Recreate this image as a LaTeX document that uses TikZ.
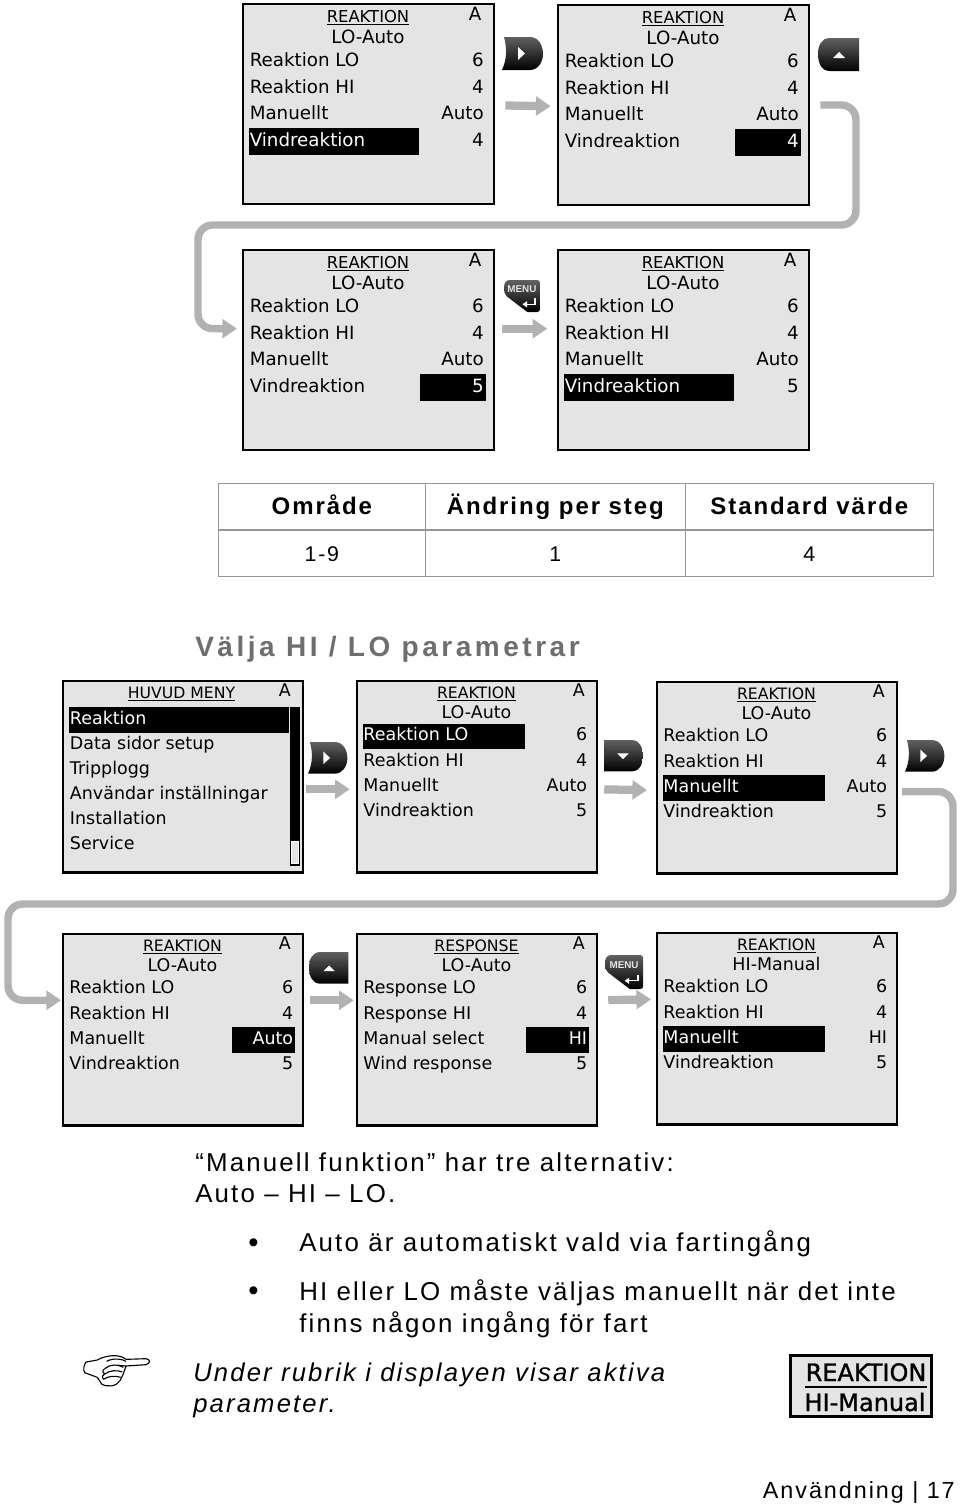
\documentclass[tikz,border=0pt]{standalone}
\usepackage{fontspec}
\setmainfont[LetterSpace=8.4]{Liberation Sans}
\newfontfamily\lcdfont{DejaVu Sans}
\newfontfamily\lcdheavy[FakeBold=1.2]{DejaVu Sans}
\newfontfamily\keyfont{Liberation Sans}
\newfontfamily\tablefont[LetterSpace=8]{Liberation Sans}
\newfontfamily\sectionfont[LetterSpace=12.6]{Liberation Sans}
\usetikzlibrary{arrows.meta, positioning, calc}
\definecolor{LcdGray}{RGB}{228, 228, 228}
\definecolor{FlowGray}{RGB}{178, 178, 178}
\definecolor{SectionGray}{RGB}{110, 110, 110}
\definecolor{RuleGray}{RGB}{150, 150, 150}
\tikzset{
    lcdframe/.style={draw=black, fill=LcdGray, line width=2pt, inner sep=0pt, transform shape,
                     minimum width=188.25pt, minimum height=150pt},
    lcdtext/.style={font=\lcdfont\fontsize{13.7}{14}\selectfont, inner sep=0pt, transform shape},
    lcdtitle/.style={font=\lcdfont\fontsize{12.3}{14}\selectfont, inner sep=0pt, transform shape},
    flowarrow/.style={draw=FlowGray, line width=6.2pt, -{Triangle[length=11pt, width=14pt]}},
    flowbend/.style={flowarrow, line width=5.6pt, rounded corners=11pt},
    keyfill/.style={shade, top color=black!62, middle color=black, bottom color=black},
    bodytext/.style={anchor=base west, inner sep=0pt, font=\fontsize{19.4}{24}\selectfont},
    tablecell/.style={draw=RuleGray, line width=0.5pt, inner sep=0pt, minimum height=34.75pt,
                      text height=14pt, text depth=0.7pt, font=\tablefont\fontsize{18}{20}\selectfont},
}
% Frame, title and channel letter of a display
\newcommand{\lcdhead}[3]{
    \node[lcdframe] (#1) at (125.5,100) {};
    \node[lcdtitle, anchor=base] (#1title) at (#2,18) {\underline{\smash{#3}}};
    \node[lcdtext, anchor=base] (#1chan) at (232,16) {A};
}
% name, x, y, scale, title, second line, rows, marked row, marked side
\newcommand{\lcdscreen}[9]{
    \begin{scope}[shift={(#2,#3)}, scale=#4]
        \lcdhead{#1}{125}{#5}
        \node[lcdtext, anchor=base] (#1sub) at (125,39) {#6};
        \foreach \lab/\val [count=\i] in {#7} {
            \pgfmathsetmacro{\ry}{56.5+26.5*(\i-1)}
            \def\lc{black}\def\vc{black}
            \ifnum\i=#8
                \if#9L
                    \fill[black] (6,\ry-12) rectangle (176,\ry+15);
                    \def\lc{white}
                \else
                    \fill[black] (177,\ry-12) rectangle (243,\ry+15);
                    \def\vc{white}
                \fi
            \fi
            \node[lcdtext, anchor=base west, text=\lc] (#1lab\i) at (6.5,\ry+6) {\lab};
            \node[lcdtext, anchor=base east, text=\vc] (#1val\i) at (241,\ry+6) {\val};
        }
    \end{scope}
}
% Keys of the instrument, all drawn in a 41 x 33 box
\newcommand{\keyright}[3]{
    \begin{scope}[shift={(#1,#2)}, scale=#3]
        \path[keyfill] (0,33) .. controls (5,22) and (5,11) .. (2,0) -- (28,0)
            .. controls (37,0) and (41,9) .. (41,17) .. controls (41,25) and (36,33) .. (28,33) -- cycle;
        \fill[white] (16,10) -- (23,16.5) -- (16,23) -- cycle;
    \end{scope}
}
\newcommand{\keyup}[3]{
    \begin{scope}[shift={(#1,#2)}, scale=#3]
        \path[keyfill] (41,0) -- (12,0) .. controls (3,0) and (0,8) .. (0,16)
            .. controls (0,26) and (4,33) .. (12,33) -- (41,33) -- cycle;
        \fill[white] (15,20) -- (21,14) -- (27,20) -- cycle;
    \end{scope}
}
\newcommand{\keydown}[3]{
    \begin{scope}[shift={(#1,#2)}, scale=#3]
        \path[keyfill] (0,0) -- (30,0) .. controls (37,0) and (41,8) .. (41,16)
            .. controls (41,26) and (37,33) .. (30,33) -- (0,33) -- cycle;
        \fill[white] (14,14) -- (26,14) -- (20,20) -- cycle;
    \end{scope}
}
\newcommand{\keymenu}[4]{
    \begin{scope}[shift={(#2,#3)}, scale=#4]
        \path[keyfill] (6,0) -- (34,0) .. controls (36,0) and (37,1) .. (37,3) -- (37,30)
            .. controls (37,32) and (36,33) .. (34,33) -- (24,33) -- (3,17)
            .. controls (1,15) and (0,13) .. (0,8) .. controls (0,3) and (2,0) .. (6,0) -- cycle;
        \node[inner sep=0pt, text=white!90!black, font=\keyfont\fontsize{7.4}{8}\selectfont\bfseries] (#1) at (18.5,9.5) {MENU};
        \draw[white, line width=1pt, -{Triangle[length=3.5pt, width=4.5pt]}] (32,19) -- (32,25) -- (19,25);
    \end{scope}
}
\begin{document}
\begin{tikzpicture}[x=0.75pt, y=-0.75pt]
    \useasboundingbox (0,0) rectangle (960,1504);

    % Wind response: value from 4 to 5
    \lcdscreen{scrA}{243}{4}{1}{REAKTION}{LO-Auto}{Reaktion LO/6, Reaktion HI/4, Manuellt/Auto, Vindreaktion/4}{4}{L}
    \lcdscreen{scrB}{558}{5}{1}{REAKTION}{LO-Auto}{Reaktion LO/6, Reaktion HI/4, Manuellt/Auto, Vindreaktion/4}{4}{R}
    \lcdscreen{scrC}{243}{250}{1}{REAKTION}{LO-Auto}{Reaktion LO/6, Reaktion HI/4, Manuellt/Auto, Vindreaktion/5}{4}{R}
    \lcdscreen{scrD}{558}{250}{1}{REAKTION}{LO-Auto}{Reaktion LO/6, Reaktion HI/4, Manuellt/Auto, Vindreaktion/5}{4}{L}

    \keyright{502}{37}{1}
    \keyup{818}{38}{1}
    \keymenu{menuA}{504}{280}{0.97}

    \coordinate (bendA) at (856,225);
    \coordinate (bendB) at (198,225);
    \draw[flowarrow, shorten <=7.5pt, shorten >=4.5pt] ([yshift=-1pt]scrA.east) -- ([yshift=-1pt]scrB.west |- 0,105);
    \draw[flowbend, shorten >=3.5pt] ([xshift=7.5pt]scrB.east) -| (bendA) -- (bendB) |- ([yshift=16pt]scrC.west);
    \draw[flowarrow, shorten <=5pt, shorten >=7pt] ([yshift=16pt]scrC.east) -- ([yshift=16pt]scrD.west);

    % Table of range and step
    \foreach \cx/\cw/\name/\head/\val in {218/207/a/Område/1-9, 425/260/b/Ändring per steg/1, 685/248/c/Standard värde/4} {
        \node[tablecell, anchor=north west, minimum width=\cw*0.75pt] (head\name) at (\cx,482.5)
            {\tablefont\bfseries\head};
        \node[tablecell, below=0pt of head\name.south west, anchor=north west, minimum width=\cw*0.75pt,
              font=\fontsize{16}{20}\selectfont] (cell\name) {\val};
    }

    \node[anchor=base west, inner sep=0pt, text=SectionGray, font=\sectionfont\fontsize{21}{24}\selectfont\bfseries]
        (secHead) at (195,656) {Välja HI / LO parametrar};

    % Main menu and its rows
    \begin{scope}[shift={(63,681)}, scale=0.956]
        \lcdhead{scrE}{124}{HUVUD MENY}
        \fill[black] (6,27) rectangle (236,54);
        \fill[black] (237,27) rectangle (248,193);
        \draw[white, fill=LcdGray, line width=0.8pt] (239.5,168) rectangle (246,191);
        \foreach \lab/\lc [count=\i] in {Reaktion/white, Data sidor setup/black, Tripplogg/black,
                                         Användar inställningar/black, Installation/black, Service/black} {
            \pgfmathsetmacro{\ry}{39.5+26.15*(\i-1)}
            \node[lcdtext, anchor=base west, text=\lc] (scrElab\i) at (7,\ry+6) {\lab};
        }
    \end{scope}
    \lcdscreen{scrF}{357}{681}{0.956}{REAKTION}{LO-Auto}{Reaktion LO/6, Reaktion HI/4, Manuellt/Auto, Vindreaktion/5}{1}{L}
    \lcdscreen{scrG}{657}{682}{0.956}{REAKTION}{LO-Auto}{Reaktion LO/6, Reaktion HI/4, Manuellt/Auto, Vindreaktion/5}{3}{L}
    \lcdscreen{scrH}{63}{934}{0.956}{REAKTION}{LO-Auto}{Reaktion LO/6, Reaktion HI/4, Manuellt/Auto, Vindreaktion/5}{3}{R}
    \lcdscreen{scrI}{357}{934}{0.956}{RESPONSE}{LO-Auto}{Response LO/6, Response HI/4, Manual select/HI, Wind response/5}{3}{R}
    \lcdscreen{scrJ}{657}{933}{0.956}{REAKTION}{HI-Manual}{Reaktion LO/6, Reaktion HI/4, Manuellt/HI, Vindreaktion/5}{3}{L}

    \keyright{308}{742}{0.96}
    \keydown{604}{740}{0.95}
    \keyright{905}{740}{0.96}
    \keyup{309}{952}{0.96}
    \keymenu{menuB}{605}{955}{1.03}

    \coordinate (bendC) at (953,904);
    \coordinate (bendD) at (8,904);
    \draw[flowarrow, shorten <=1.5pt, shorten >=4.5pt] ([yshift=-9.5pt]scrE.east) -- ([yshift=-9.5pt]scrF.west);
    \draw[flowarrow, shorten <=4.5pt, shorten >=6.5pt] ([yshift=-9.5pt]scrF.east) -- ([yshift=-9.5pt]scrG.west);
    \draw[flowbend, shorten >=0.5pt] ([xshift=3pt, yshift=-10.5pt]scrG.east) -| (bendC) -- (bendD) |- ([yshift=22pt]scrH.west);
    \draw[flowarrow, shorten <=4.5pt, shorten >=1.5pt] ([yshift=22pt]scrH.east) -- ([yshift=22pt]scrI.west);
    \draw[flowarrow, shorten <=7.5pt, shorten >=3.5pt] ([yshift=22pt]scrI.east) -- ([yshift=22pt]scrJ.west);

    % Text below the displays
    \node[bodytext] (txtA) at (195,1171) {“Manuell funktion” har tre alternativ:};
    \node[bodytext] (txtB) at (195,1202) {Auto – HI – LO.};
    \node[bodytext, font=\fontsize{22}{24}\selectfont] (dotA) at (248,1252) {\textbullet};
    \node[bodytext] (txtC) at (299,1251) {Auto är automatiskt vald via fartingång};
    \node[bodytext, font=\fontsize{22}{24}\selectfont] (dotB) at (248,1300) {\textbullet};
    \node[bodytext] (txtD) at (299,1300) {HI eller LO måste väljas manuellt när det inte};
    \node[bodytext] (txtE) at (299,1332) {finns någon ingång för fart};
    \node[bodytext, font=\fontsize{19.25}{24}\selectfont] (txtF) at (193,1381) {\itshape Under rubrik i displayen visar aktiva};
    \node[bodytext, font=\fontsize{19.25}{24}\selectfont] (txtG) at (193,1412) {\itshape parameter.};
    \node[bodytext, anchor=base east, font=\fontsize{17.5}{20}\selectfont] (pageNo) at (955,1498) {Användning | 17};

    % Pointing hand
    \begin{scope}[shift={(60,1340)}, scale=1/3, line width=0.85pt, line join=round]
        \draw (112,60) .. controls (140,44) and (180,42) .. (198,58) -- (258,56)
            .. controls (272,58) and (272,70) .. (258,74) -- (198,78) .. controls (194,90) and (190,104) .. (180,122)
            .. controls (170,140) and (140,142) .. (125,132) -- (112,112);
        \draw (112,60) -- (78,66) .. controls (70,77) and (70,90) .. (74,98) -- (112,112);
        \draw (140,64) .. controls (160,52) and (190,58) .. (198,64);
        \draw (198,78) -- (172,76);
        \draw (134,86) .. controls (150,72) and (175,72) .. (190,82);
        \draw (134,102) .. controls (150,90) and (172,90) .. (187,96);
        \draw (130,118) .. controls (145,108) and (165,106) .. (182,112);
        \draw (134,86) .. controls (126,92) and (127,98) .. (134,102) .. controls (126,107) and (125,113) .. (130,118);
    \end{scope}

    % Small display heading
    \node[draw=black, fill=LcdGray, line width=2.2pt, minimum width=105.5pt, minimum height=45.5pt, inner sep=0pt]
        (smallBox) at (861,1386) {};
    \node[lcdtext, anchor=base, font=\lcdheavy\fontsize{18}{18}\selectfont] (smallTop) at (866,1381) {REAKTION};
    \node[lcdtext, anchor=base, font=\lcdheavy\fontsize{18}{18}\selectfont] (smallSub) at (865,1411) {HI-Manual};
    \draw[black, line width=1.2pt] (smallTop.south west |- 0,1387) -- (smallTop.south east |- 0,1387);
\end{tikzpicture}
\end{document}
